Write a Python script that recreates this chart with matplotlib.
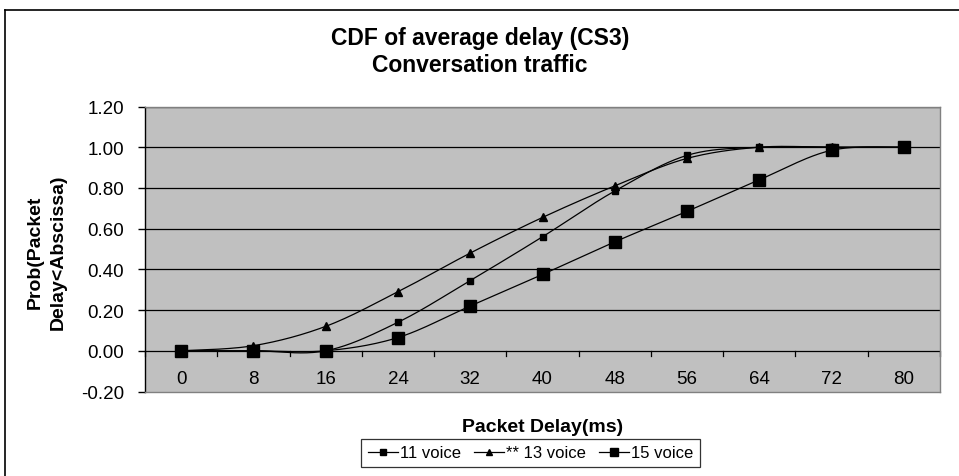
import numpy as np
import matplotlib
matplotlib.use("Agg")
import matplotlib.pyplot as plt
from matplotlib.lines import Line2D

plt.rcParams['font.family'] = ['Liberation Sans', 'DejaVu Sans']

# =========================
# DATA
# =========================

delays = [0, 8, 16, 24, 32, 40, 48, 56, 64, 72, 80]
voice_11 = [0.0, 0.0, 0.0, 0.14, 0.345, 0.56, 0.785, 0.96, 1.0, 1.0, 1.0]
voice_13 = [0.0, 0.025, 0.12, 0.29, 0.48, 0.655, 0.81, 0.945, 1.0, 1.0, 1.0]
voice_15 = [0.0, 0.0, 0.0, 0.065, 0.22, 0.375, 0.535, 0.685, 0.84, 0.985, 1.0]
series_names = ["11 voice", "** 13 voice", "15 voice"]
y_ticks = [-0.2, 0.0, 0.2, 0.4, 0.6, 0.8, 1.0, 1.2]


# excel style smoothed line (catmull-rom bezier)
def smooth(xs, ys, n=24):
    xs = np.asarray(xs, float)
    ys = np.asarray(ys, float)
    px = np.concatenate([[xs[0]], xs, [xs[-1]]])
    py = np.concatenate([[ys[0]], ys, [ys[-1]]])
    t = np.linspace(0, 1, n)
    outx, outy = [], []
    for i in range(1, len(px) - 2):
        p0 = np.array([px[i], py[i]])
        p3 = np.array([px[i + 1], py[i + 1]])
        c1 = p0 + (np.array([px[i + 1], py[i + 1]]) - np.array([px[i - 1], py[i - 1]])) / 6
        c2 = p3 - (np.array([px[i + 2], py[i + 2]]) - np.array([px[i], py[i]])) / 6
        b = ((1 - t) ** 3)[:, None] * p0 + (3 * (1 - t) ** 2 * t)[:, None] * c1 \
            + (3 * (1 - t) * t ** 2)[:, None] * c2 + (t ** 3)[:, None] * p3
        outx.extend(b[:, 0])
        outy.extend(b[:, 1])
    return outx, outy


# =========================
# FIGURE
# =========================

fig = plt.figure(figsize=(9.59, 4.77), dpi=100)
ax = fig.add_axes([145 / 959, 1 - 392.5 / 477, 795 / 959, 285 / 477])
ax.set_facecolor("#C0C0C0")

x = np.arange(len(delays))
for yv in y_ticks[1:]:
    ax.axhline(yv, color="black", lw=0.9, zorder=1)

styles = [("s", 5), ("^", 6), ("s", 8.5)]
for name, vals, (mk, ms) in zip(series_names, [voice_11, voice_13, voice_15], styles):
    sx, sy = smooth(x, vals)
    ax.plot(sx, sy, color="black", lw=0.9, zorder=3)
    ax.plot(x, vals, ls="none", marker=mk, ms=ms, color="black", zorder=4)

ax.set_xlim(-0.5, len(delays) - 0.5)
ax.set_ylim(-0.2, 1.2)
ax.set_yticks(y_ticks)
ax.set_yticklabels(["%.2f" % v for v in y_ticks], fontsize=13.5)
ax.set_xticks([])

for s in ["top", "right", "bottom"]:
    ax.spines[s].set_color("#808080")
    ax.spines[s].set_linewidth(1.0)
ax.spines["left"].set_color("black")
ax.spines["left"].set_linewidth(1.0)
ax.tick_params(axis="y", length=5, width=1, direction="out", pad=10)

# category tick marks below the zero line
for b in np.arange(-0.5, len(delays), 1.0):
    ax.plot([b, b], [0, -0.027], color="black", lw=0.9, zorder=2, clip_on=False)
for xi, d in zip(x, delays):
    ax.text(xi, -0.135, str(d), ha="center", va="center", fontsize=13.5)

# =========================
# TEXT
# =========================

fig.text(480 / 959, 1 - 38 / 477, "CDF of average delay (CS3)",
         ha="center", va="center", fontsize=16.5, fontweight="bold")
fig.text(480 / 959, 1 - 65 / 477, "Conversation traffic",
         ha="center", va="center", fontsize=16.5, fontweight="bold")
fig.text(47 / 959, 1 - 252 / 477, "Prob(Packet\nDelay<Abscissa)", rotation=90,
         ha="center", va="center", fontsize=14, fontweight="bold", linespacing=1.5)
fig.text(542.5 / 959, 1 - 428 / 477, "Packet Delay(ms)",
         ha="center", va="center", fontsize=14, fontweight="bold")

handles = [Line2D([], [], color="black", lw=0.9, marker=mk, ms=ms * 0.75) for mk, ms in styles]
leg = fig.legend(handles, series_names, loc="center", bbox_to_anchor=(530.5 / 959, 1 - 454 / 477),
                 ncol=3, fontsize=12, frameon=True, fancybox=False, handlelength=1.8,
                 handletextpad=0.15, columnspacing=0.75, borderpad=0.4, borderaxespad=0)
leg.get_frame().set_edgecolor("black")
leg.get_frame().set_linewidth(0.9)

# outer chart frame (top and left edges visible)
fig.add_artist(Line2D([4.5 / 959, 4.5 / 959], [0, 1 - 10.5 / 477], color="black", lw=1.2,
                      transform=fig.transFigure))
fig.add_artist(Line2D([4.5 / 959, 1], [1 - 10.5 / 477, 1 - 10.5 / 477], color="black", lw=1.2,
                      transform=fig.transFigure))

plt.savefig("out.png", dpi=100)
